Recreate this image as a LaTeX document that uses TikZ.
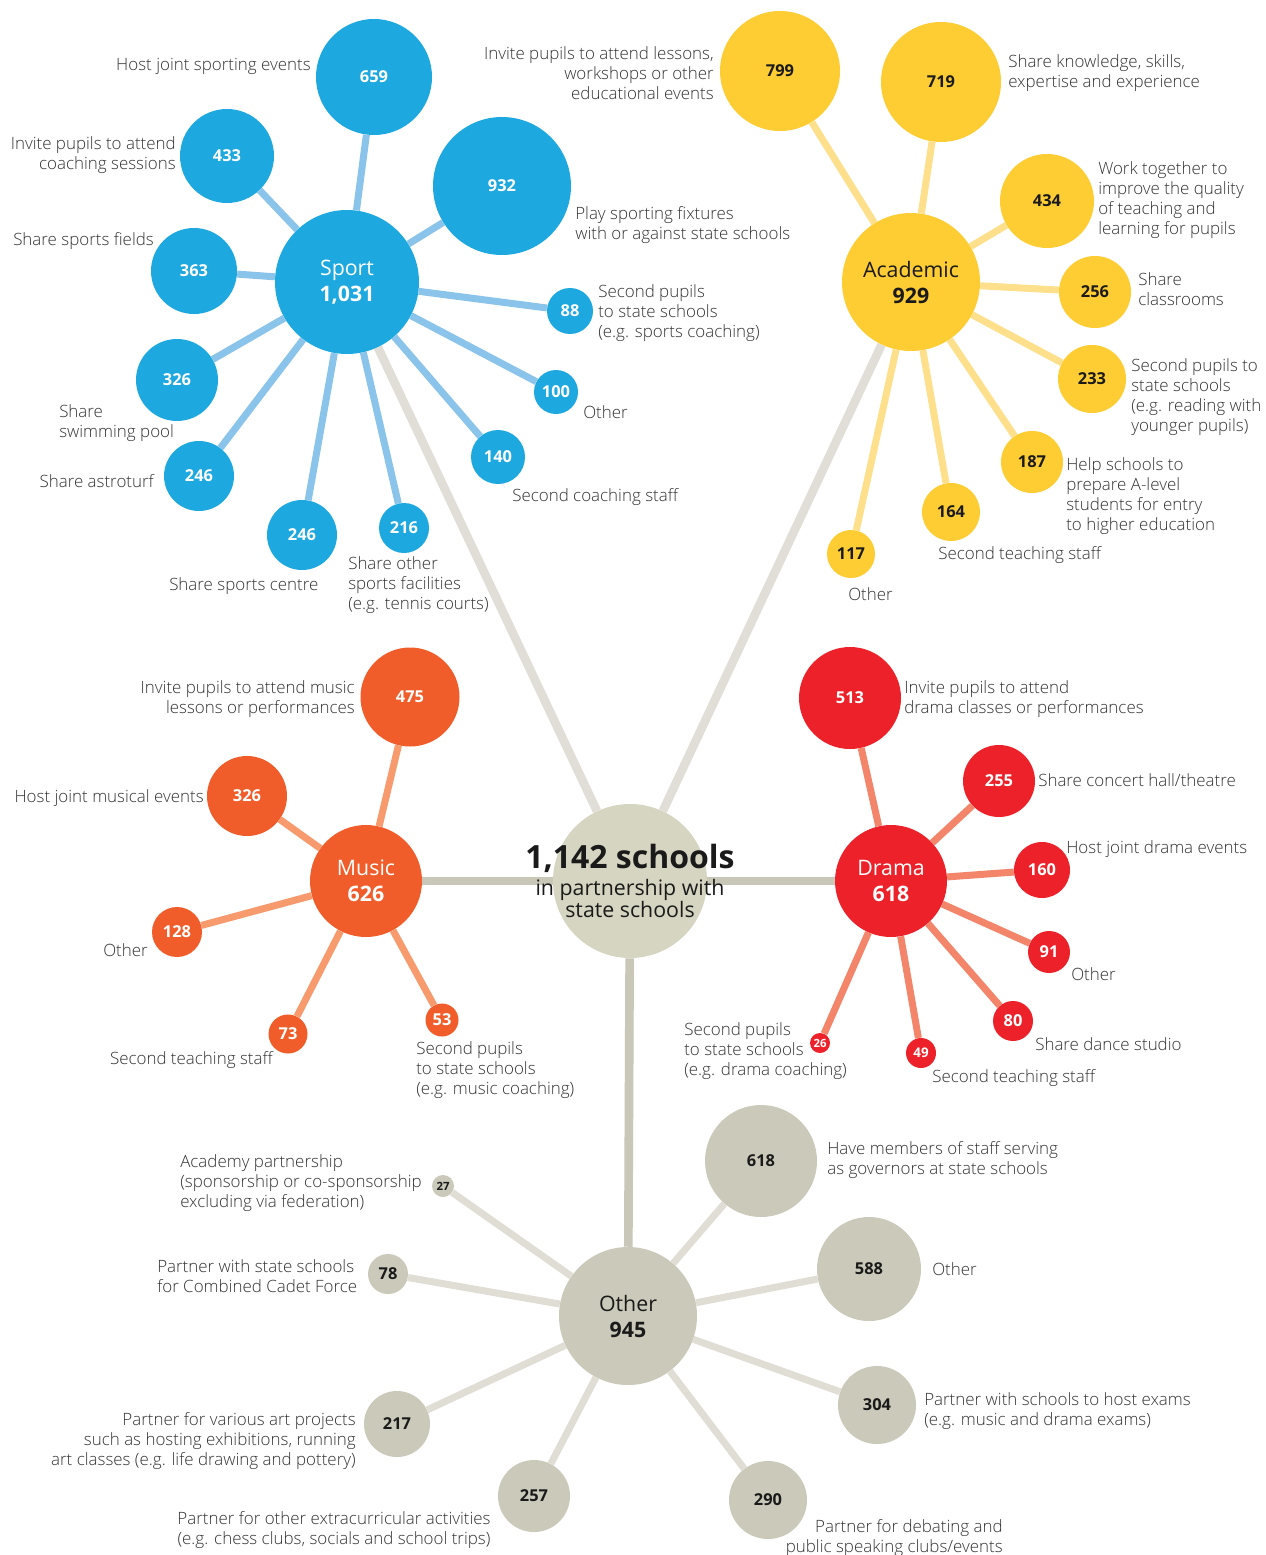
\documentclass[tikz,border=0pt]{standalone}
\usepackage{fontspec}
\setmainfont{Open Sans}
\IfFontExistsTF{Open Sans Light}
  {\newfontfamily\lightfont{Open Sans Light}\newcommand\labsize{12.7}}
  {\newfontfamily\lightfont{Open Sans}\newcommand\labsize{12.1}}
\IfFontExistsTF{Open Sans SemiBold}
  {\newfontfamily\semifont{Open Sans SemiBold}}
  {\newcommand\semifont{\bfseries}}
\usetikzlibrary{backgrounds}
\definecolor{sportc}{HTML}{1DA8E0}
\definecolor{sportl}{HTML}{8BC4EA}
\definecolor{acadc}{HTML}{FECC33}
\definecolor{acadl}{HTML}{FEE08C}
\definecolor{musicc}{HTML}{F15D2A}
\definecolor{musicl}{HTML}{F79B6E}
\definecolor{dramac}{HTML}{EC2129}
\definecolor{dramal}{HTML}{F2856A}
\definecolor{otherc}{HTML}{CBC9BA}
\definecolor{otherl}{HTML}{DFDDD4}
\definecolor{centerc}{HTML}{D6D5C1}
\definecolor{mainlt}{HTML}{E0DED7}
\definecolor{maindk}{HTML}{C9C7B8}
\definecolor{labc}{HTML}{333333}
\definecolor{numdk}{HTML}{1A1A1A}
\tikzset{
  bub/.style={circle, inner sep=0pt, minimum size=#1*1.5pt, font=\fontsize{12.3}{14}\semifont},
  sp/.style={bub=#1, fill=sportc, text=white},
  ac/.style={bub=#1, fill=acadc, text=numdk},
  mu/.style={bub=#1, fill=musicc, text=white},
  dr/.style={bub=#1, fill=dramac, text=white},
  ot/.style={bub=#1, fill=otherc, text=numdk},
  hub/.style={circle, inner sep=0pt, minimum size=#1*1.5pt, align=center, font=\fontsize{16}{19.5}\selectfont},
  lab/.style={inner sep=0pt, yshift=-1.5pt, font=\lightfont\fontsize{\labsize}{15}\selectfont, text=labc},
  labl/.style={lab, anchor=west, align=left},
  labr/.style={lab, anchor=east, align=right},
  labc/.style={lab, align=center},
  spoke/.style={line width=5.25pt},
  sportsp/.style={spoke, draw=sportl},
  acadsp/.style={spoke, draw=acadl},
  musicsp/.style={spoke, draw=musicl},
  dramasp/.style={spoke, draw=dramal},
  othersp/.style={spoke, draw=otherl},
  mainlight/.style={line width=6.5pt, draw=mainlt},
  maindark/.style={line width=6.5pt, draw=maindk},
  smallnum/.style={font=\fontsize{8.5}{10}\semifont},
}
\begin{document}
\begin{tikzpicture}[x=0.75pt, y=-0.75pt]
\begin{scope}[on background layer]
\fill[white] (0,0) rectangle (1265,1555);
\end{scope}
\path[use as bounding box] (0,0) rectangle (1265,1555);

% ---------- centre ----------
\node[circle, inner sep=0pt, minimum size=77*1.5pt, fill=centerc] (C) at (630,881) {};
\node[inner sep=0pt, align=center, text=numdk, font=\fontsize{16}{16.5}\selectfont] (Ctext) at (630,881)
  {{\fontsize{24}{24}\selectfont\bfseries 1,142 schools}\\[3.5pt]in partnership with\\state schools};

% ---------- Sport ----------
\node[hub=72, fill=sportc, text=white] (S) at (347,282) {Sport\\\textbf{1,031}};
\node[sp=58] (s659) at (374,77) {659};
\node[sp=47] (s433) at (227,156) {433};
\node[sp=69] (s932) at (502,186) {932};
\node[sp=43] (s363) at (194,271) {363};
\node[sp=23] (s88) at (570,311) {88};
\node[sp=41] (s326) at (177,380) {326};
\node[sp=22] (s100) at (556,392) {100};
\node[sp=35] (s246a) at (199,476) {246};
\node[sp=27] (s140) at (498,457) {140};
\node[sp=35] (s246c) at (302,535) {246};
\node[sp=25] (s216) at (404,528) {216};

\node[labr] (ls659) at (311,64) {Host joint sporting events};
\node[labr] (ls433) at (176,153) {Invite pupils to attend\\coaching sessions};
\node[labl] (ls363) at (13,239) {Share sports fields};
\node[labl] (ls932) at (575,223) {Play sporting fixtures\\with or against state schools};
\node[labl] (ls88) at (598,311) {Second pupils\\to state schools\\(e.g. sports coaching)};
\node[labl] (ls326) at (59,421) {Share\\swimming pool};
\node[labl] (ls100) at (583,410) {Other};
\node[labr] (ls246a) at (154,479) {Share astroturf};
\node[labl] (ls140) at (512,495) {Second coaching staff};
\node[labl] (ls246c) at (169,584) {Share sports centre};
\node[labl] (ls216) at (348,583) {Share other\\sports facilities\\(e.g. tennis courts)};

% ---------- Academic ----------
\node[hub=69, fill=acadc, text=numdk] (A) at (911,282) {Academic\\\textbf{929}};
\node[ac=60] (a799) at (780,71) {799};
\node[ac=60] (a719) at (941,82) {719};
\node[ac=47] (a434) at (1047,201) {434};
\node[ac=36] (a256) at (1095,292) {256};
\node[ac=34] (a233) at (1092,379) {233};
\node[ac=31] (a187) at (1032,462) {187};
\node[ac=29] (a164) at (951,512) {164};
\node[ac=24] (a117) at (851,554) {117};

\node[labr] (la799) at (714,71) {Invite pupils to attend lessons,\\workshops or other\\educational events};
\node[labl] (la719) at (1008,71) {Share knowledge, skills,\\expertise and experience};
\node[labl] (la434) at (1098,198) {Work together to\\improve the quality\\of teaching and\\learning for pupils};
\node[labl] (la256) at (1138,287) {Share\\classrooms};
\node[labl] (la233) at (1131,395) {Second pupils to\\state schools\\(e.g. reading with\\younger pupils)};
\node[labl] (la187) at (1066,494) {Help schools to\\prepare A-level\\students for entry\\to higher education};
\node[labl] (la164) at (938,553) {Second teaching staff};
\node[labl] (la117) at (848,592) {Other};

% ---------- Music ----------
\node[hub=56, fill=musicc, text=white] (M) at (366,881) {Music\\\textbf{626}};
\node[mu=49.5] (m475) at (410,697) {475};
\node[mu=40] (m326) at (247,796) {326};
\node[mu=25] (m128) at (177,932) {128};
\node[mu=19.5] (m73) at (288,1034) {73};
\node[mu=16.5] (m53) at (442,1020) {53};

\node[labr] (lm475) at (355,697) {Invite pupils to attend music\\lessons or performances};
\node[labr] (lm326) at (204,796) {Host joint musical events};
\node[labr] (lm128) at (148,948) {Other};
\node[labr] (lm73) at (273,1058) {Second teaching staff};
\node[labl] (lm53) at (416,1068) {Second pupils\\to state schools\\(e.g. music coaching)};

% ---------- Drama ----------
\node[hub=56, fill=dramac, text=white] (D) at (891,881) {Drama\\\textbf{618}};
\node[dr=51] (d513) at (850,698) {513};
\node[dr=36] (d255) at (999,781) {255};
\node[dr=28] (d160) at (1042,870) {160};
\node[dr=21] (d91) at (1049,952) {91};
\node[dr=20] (d80) at (1013,1021) {80};
\node[dr=15, font=\fontsize{10}{12}\semifont] (d49) at (921,1053) {49};
\node[dr=10, smallnum] (d26) at (820,1043) {26};

\node[labl] (ld513) at (904,697) {Invite pupils to attend\\drama classes or performances};
\node[labl] (ld255) at (1038,778) {Share concert hall/theatre};
\node[labl] (ld160) at (1066,847) {Host joint drama events};
\node[labl] (ld91) at (1071,972) {Other};
\node[labl] (ld80) at (1035,1042) {Share dance studio};
\node[labl] (ld49) at (932,1076) {Second teaching staff};
\node[labl] (ld26) at (684,1049) {Second pupils\\to state schools\\(e.g. drama coaching)};

% ---------- Other ----------
\node[hub=69, fill=otherc, text=numdk] (O) at (628,1316) {Other\\\textbf{945}};
\node[ot=11, smallnum] (o27) at (443,1186) {27};
\node[ot=20] (o78) at (388,1274) {78};
\node[ot=33] (o217) at (397,1424) {217};
\node[ot=36] (o257) at (534,1496) {257};
\node[ot=39] (o290) at (768,1500) {290};
\node[ot=39] (o304) at (877,1405) {304};
\node[ot=52] (o588) at (869,1269) {588};
\node[ot=56] (o618) at (761,1161) {618};

\node[labl] (lo27) at (180,1181) {Academy partnership\\(sponsorship or co-sponsorship\\excluding via federation)};
\node[labl] (lo78) at (157,1274) {Partner with state schools\\for Combined Cadet Force};
\node[labr] (lo217) at (356,1439) {Partner for various art projects\\such as hosting exhibitions, running\\art classes (e.g. life drawing and pottery)};
\node[labc] (lo257) at (334,1528) {Partner for other extracurricular activities\\(e.g. chess clubs, socials and school trips)};
\node[labr] (lo290) at (1003,1536) {Partner for debating and\\public speaking clubs/events};
\node[labl] (lo304) at (924,1409) {Partner with schools to host exams\\(e.g. music and drama exams)};
\node[labl] (lo588) at (932,1267) {Other};
\node[labl] (lo618) at (827,1158) {Have members of staff serving\\as governors at state schools};

% ---------- connectors ----------
\begin{scope}[on background layer]
\draw[mainlight] (C) -- (S);
\draw[mainlight] (C) -- (A);
\draw[maindark] (C) -- (M);
\draw[maindark] (C) -- (D);
\draw[maindark] (C) -- (O);
\foreach \n in {s659,s433,s932,s363,s88,s326,s100,s246a,s140,s246c,s216}
  \draw[sportsp] (S) -- (\n);
\foreach \n in {a799,a719,a434,a256,a233,a187,a164,a117}
  \draw[acadsp] (A) -- (\n);
\foreach \n in {m475,m326,m128,m73,m53}
  \draw[musicsp] (M) -- (\n);
\foreach \n in {d513,d255,d160,d91,d80,d49,d26}
  \draw[dramasp] (D) -- (\n);
\foreach \n in {o27,o78,o217,o257,o290,o304,o588,o618}
  \draw[othersp] (O) -- (\n);
\end{scope}
\end{tikzpicture}
\end{document}
